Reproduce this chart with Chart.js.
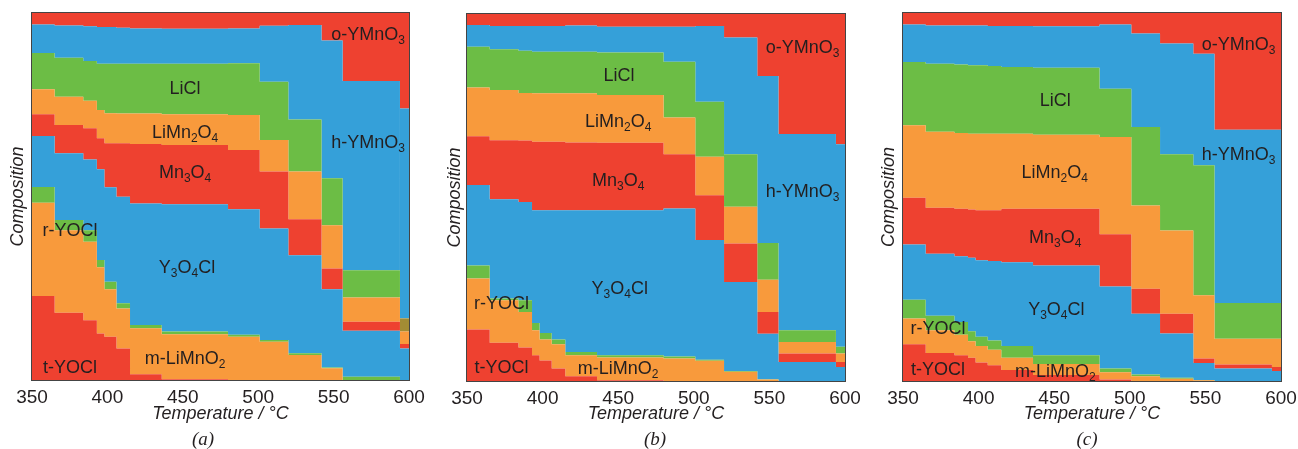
<!DOCTYPE html>
<html>
<head>
<meta charset="utf-8">
<script src="https://cdn.jsdelivr.net/npm/chart.js@4.4.1/dist/chart.umd.min.js"></script>
<style>
  html, body { margin: 0; padding: 0; background: #fff; }
  #wrap { position: relative; width: 1298px; height: 449px; overflow: hidden; }
  .panel { position: absolute; top: 0; height: 449px; }
</style>
</head>
<body>
<div id="wrap">
  <div class="panel" style="left:0px;width:430px"><canvas id="chartA" width="430" height="449"></canvas></div>
  <div class="panel" style="left:430px;width:430px"><canvas id="chartB" width="430" height="449"></canvas></div>
  <div class="panel" style="left:860px;width:438px"><canvas id="chartC" width="438" height="449"></canvas></div>
</div>
<script>
// Temperature (°C) at which each composition step starts; the last one closes the axis
const temperatures = [350, 365, 384, 393, 398, 406, 415, 436, 480, 501, 520, 542, 556, 594, 600];

// Stack order, bottom to top
const phaseNames = ['t-YOCl', 'r-YOCl / m-LiMnO2', 'minor phase', 'Y3O4Cl', 'Mn3O4', 'LiMn2O4', 'LiCl', 'h-YMnO3', 'o-YMnO3'];
const phaseColors = ['#ee4130', '#f89a3c', '#6cbd45', '#35a0d9', '#ee4130', '#f89a3c', '#6cbd45', '#35a0d9', '#ee4130'];

// Panel (a): composition (%) per temperature step
const aTYOCl   = [22.9, 18.3, 16.3, 12.7, 11.8, 8.6, 1.6, 0.2, 0, 0, 0, 0, 0, 0];
const aRYOCl   = [25.4, 22.5, 21.4, 18.0, 12.9, 10.9, 12.5, 12.3, 11.8, 10.4, 6.8, 3.2, 0, 0];
const aMinor   = [4.3, 2.8, 3.1, 2.0, 2.1, 1.4, 0.9, 0.7, 0.5, 0.5, 0.5, 0.2, 0.9, 0];
const aY3O4Cl  = [13.9, 18.2, 19.3, 24.7, 25.7, 29.0, 33.1, 34.7, 34.2, 30.4, 26.7, 21.3, 12.5, 8.6];
const aMn3O4   = [5.9, 7.7, 8.5, 8.5, 12.0, 14.6, 16.2, 16.1, 16.2, 15.5, 9.8, 5.7, 2.5, 1.2];
const aLiMn2O4 = [6.8, 7.7, 7.5, 7.7, 8.2, 8.1, 8.3, 8.4, 9.5, 8.6, 13.0, 11.8, 6.6, 3.4];
const aLiCl    = [9.9, 10.6, 10.8, 12.6, 13.5, 13.6, 13.6, 13.8, 14.1, 15.9, 14.2, 12.8, 7.4, 3.6];
const aHYMnO3  = [7.8, 8.8, 9.5, 10.0, 10.0, 9.8, 9.6, 9.5, 9.5, 15.2, 25.7, 37.5, 51.6, 57.2];
const aOYMnO3  = [3.1, 3.4, 3.6, 3.8, 3.8, 4.0, 4.2, 4.3, 4.2, 3.5, 3.3, 7.5, 18.5, 26.0];

// Panel (b)
const bTYOCl   = [14.0, 10.4, 9.1, 7.0, 5.6, 3.4, 1.3, 0.2, 0, 0, 0, 0, 0, 0];
const bRYOCl   = [13.9, 11.6, 9.7, 6.8, 5.7, 6.6, 5.7, 6.2, 6.1, 5.5, 2.5, 0.4, 0, 0];
const bMinor   = [3.6, 0.5, 3.2, 2.0, 1.8, 1.3, 0.9, 0.6, 0.6, 0.3, 0.2, 0.1, 0, 0];
const bY3O4Cl  = [21.9, 27.0, 26.8, 30.7, 33.4, 35.2, 38.6, 39.5, 40.3, 32.6, 24.3, 12.4, 5.2, 3.8];
const bMn3O4   = [13.3, 16.1, 16.7, 18.7, 18.7, 18.7, 18.5, 18.4, 14.8, 12.2, 10.5, 5.9, 2.3, 1.4];
const bLiMn2O4 = [13.3, 13.7, 13.0, 13.2, 13.2, 13.2, 13.4, 13.0, 10.0, 10.5, 10.0, 8.8, 3.1, 2.3];
const bLiCl    = [11.1, 11.1, 11.5, 11.3, 11.3, 11.3, 11.3, 11.6, 15.2, 15.0, 14.3, 10.0, 3.2, 1.8];
const bHYMnO3  = [5.9, 6.3, 6.7, 7.0, 7.0, 7.0, 7.2, 7.0, 9.5, 20.6, 31.8, 45.5, 53.5, 55.2];
const bOYMnO3  = [3.0, 3.3, 3.3, 3.3, 3.3, 3.3, 3.5, 3.5, 3.5, 3.3, 6.4, 16.9, 32.7, 35.5];

// Panel (c)
const cTYOCl   = [10.0, 7.6, 7.0, 6.3, 5.0, 4.3, 3.0, 1.6, 0.4, 0, 0, 0, 0, 0];
const cRYOCl   = [7.0, 6.2, 5.6, 4.5, 4.5, 4.2, 3.3, 3.0, 2.0, 1.3, 0.6, 0.2, 0, 0];
const cMinor   = [5.1, 3.9, 3.4, 2.7, 2.5, 2.5, 3.2, 2.4, 1.0, 0.5, 0.3, 0.1, 0, 0];
const cY3O4Cl  = [15.0, 16.9, 17.9, 20.0, 20.8, 21.6, 22.8, 24.4, 22.3, 16.5, 12.0, 4.6, 3.4, 2.7];
const cMn3O4   = [12.7, 12.5, 12.9, 13.1, 13.6, 13.8, 14.5, 15.4, 14.2, 6.8, 5.4, 1.2, 1.1, 1.1];
const cLiMn2O4 = [19.7, 20.6, 20.6, 20.6, 20.8, 20.8, 20.4, 20.1, 26.4, 22.6, 22.6, 17.2, 7.0, 7.7];
const cLiCl    = [17.2, 18.5, 18.6, 18.6, 18.6, 18.4, 18.1, 18.2, 13.1, 21.3, 20.7, 35.3, 9.7, 9.7];
const cHYMnO3  = [10.2, 10.4, 10.6, 10.8, 10.8, 10.9, 11.2, 11.3, 17.5, 25.4, 30.1, 30.3, 47.1, 47.1];
const cOYMnO3  = [3.1, 3.4, 3.4, 3.4, 3.4, 3.5, 3.5, 3.6, 3.1, 5.6, 8.3, 11.1, 31.7, 31.7];

// Phase labels written inside each panel (temperature, composition %)
const labelsA = [
  { text: 'o-YMnO_3', x: 572.8, y: 94.5 }, { text: 'LiCl', x: 451.5, y: 79.6 },
  { text: 'LiMn_2O_4', x: 451.5, y: 67.6 }, { text: 'Mn_3O_4', x: 451.5, y: 56.7 },
  { text: 'h-YMnO_3', x: 572.8, y: 64.9 }, { text: 'r-YOCl', x: 375.2, y: 41.1 },
  { text: 'Y_3O_4Cl', x: 452.8, y: 30.8 }, { text: 't-YOCl', x: 375.2, y: 3.8 },
  { text: 'm-LiMnO_2', x: 451.5, y: 6.0 }
];
const labelsB = [
  { text: 'o-YMnO_3', x: 572, y: 91.1 }, { text: 'LiCl', x: 450.6, y: 83.4 },
  { text: 'LiMn_2O_4', x: 450, y: 70.9 }, { text: 'Mn_3O_4', x: 450, y: 55.0 },
  { text: 'h-YMnO_3', x: 572, y: 52.0 }, { text: 'Y_3O_4Cl', x: 451, y: 25.5 },
  { text: 'r-YOCl', x: 372.8, y: 21.5 }, { text: 't-YOCl', x: 372.8, y: 4.0 },
  { text: 'm-LiMnO_2', x: 450, y: 3.8 }
];
const labelsC = [
  { text: 'o-YMnO_3', x: 572, y: 91.7 }, { text: 'LiCl', x: 450.7, y: 76.5 },
  { text: 'LiMn_2O_4', x: 450.3, y: 56.8 }, { text: 'Mn_3O_4', x: 450.7, y: 39.3 },
  { text: 'h-YMnO_3', x: 572, y: 61.8 }, { text: 'Y_3O_4Cl', x: 451.4, y: 19.7 },
  { text: 'r-YOCl', x: 373.1, y: 14.5 }, { text: 't-YOCl', x: 373.1, y: 3.4 },
  { text: 'm-LiMnO_2', x: 450.7, y: 2.9 }
];

const TEXT_COLOR = '#231f20';
const SANS = '"Liberation Sans", Arial, sans-serif';

// Each step value holds until the next temperature, so repeat the last one at 600
function stepPoints(values) {
  return temperatures.map((t, i) => ({ x: t, y: values[Math.min(i, values.length - 1)] }));
}

function buildDatasets(series, oddCell) {
  return series.map((values, i) => {
    const ds = {
      label: phaseNames[i],
      data: stepPoints(values),
      backgroundColor: phaseColors[i],
      borderColor: 'rgba(0,0,0,0)',
      borderWidth: 0,
      pointRadius: 0,
      stepped: 'before',
      fill: i === 0 ? 'origin' : '-1'
    };
    // olive cell at the last step of panel (a)
    if (oddCell && oddCell.layer === i) {
      ds.segment = {
        backgroundColor: ctx => ctx.p0.parsed.x === oddCell.from ? oddCell.color : undefined
      };
    }
    return ds;
  });
}

// Splits 'LiMn_2O_4' into normal and subscript runs and draws them centred
function drawChemLabel(ctx, text, cx, cy) {
  const parts = [];
  let buf = '';
  for (let k = 0; k < text.length; k++) {
    if (text[k] === '_') {
      if (buf) parts.push({ t: buf, sub: false });
      buf = '';
      parts.push({ t: text[k + 1], sub: true });
      k++;
    } else {
      buf += text[k];
    }
  }
  if (buf) parts.push({ t: buf, sub: false });

  const mainFont = '18px ' + SANS;
  const subFont = '12px ' + SANS;
  let total = 0;
  parts.forEach(p => {
    ctx.font = p.sub ? subFont : mainFont;
    p.w = ctx.measureText(p.t).width;
    total += p.w;
  });
  let x = cx - total / 2;
  ctx.fillStyle = TEXT_COLOR;
  ctx.textAlign = 'left';
  ctx.textBaseline = 'alphabetic';
  parts.forEach(p => {
    ctx.font = p.sub ? subFont : mainFont;
    ctx.fillText(p.t, x, p.sub ? cy + 10.5 : cy + 6.5);
    x += p.w;
  });
}

const panelDecor = {
  id: 'panelDecor',
  afterDatasetsDraw(chart, args, opts) {
    const { ctx, chartArea } = chart;
    const xs = chart.scales.x;
    const ys = chart.scales.y;
    ctx.save();
    opts.labels.forEach(l => {
      drawChemLabel(ctx, l.text, xs.getPixelForValue(l.x), ys.getPixelForValue(l.y));
    });
    // plot frame
    ctx.strokeStyle = '#444';
    ctx.lineWidth = 1;
    ctx.strokeRect(chartArea.left - 0.5, chartArea.top - 0.5,
      chartArea.right - chartArea.left + 1, chartArea.bottom - chartArea.top + 1);
    // panel letter
    ctx.font = 'italic 19px "Liberation Serif", "Times New Roman", serif';
    ctx.fillStyle = TEXT_COLOR;
    ctx.textAlign = 'center';
    ctx.textBaseline = 'middle';
    ctx.fillText(opts.letter, opts.letterX, 440);
    ctx.restore();
  }
};

function makePanel(canvasId, series, box, opts) {
  const canvas = document.getElementById(canvasId);
  const W = canvas.width;
  const H = canvas.height;
  return new Chart(canvas, {
    type: 'line',
    data: { datasets: buildDatasets(series, opts.oddCell) },
    options: {
      responsive: false,
      animation: false,
      devicePixelRatio: 1,
      layout: { padding: { left: 0, top: box.top, right: W - box.right, bottom: 0 } },
      plugins: {
        legend: { display: false },
        tooltip: { enabled: false },
        panelDecor: { labels: opts.labels, letter: opts.letter, letterX: opts.letterX }
      },
      scales: {
        x: {
          type: 'linear',
          min: 350,
          max: 600,
          grid: { display: false, drawTicks: false },
          border: { display: false },
          ticks: {
            stepSize: 50,
            autoSkip: false,
            maxRotation: 0,
            padding: 6,
            color: TEXT_COLOR,
            font: { family: SANS, size: 19 }
          },
          title: {
            display: true,
            text: 'Temperature / °C',
            color: TEXT_COLOR,
            font: { family: SANS, size: 18, style: 'italic' },
            padding: { top: 0, bottom: 24 }
          },
          afterFit: scale => {
            scale.height = H - box.bottom;
            // keep the plot box fixed: end labels may overhang into the margins
            scale.paddingLeft = 0;
            scale.paddingRight = 0;
          }
        },
        y: {
          stacked: true,
          min: 0,
          max: 100,
          grid: { display: false, drawTicks: false },
          border: { display: false },
          ticks: { display: false },
          title: {
            display: true,
            text: 'Composition',
            color: TEXT_COLOR,
            font: { family: SANS, size: 18, style: 'italic' },
            padding: { top: opts.yTitlePad, bottom: 0 }
          },
          afterFit: scale => { scale.width = box.left; }
        }
      }
    },
    plugins: [panelDecor]
  });
}

makePanel('chartA',
  [aTYOCl, aRYOCl, aMinor, aY3O4Cl, aMn3O4, aLiMn2O4, aLiCl, aHYMnO3, aOYMnO3],
  { left: 32, right: 409, top: 13, bottom: 380 },
  { labels: labelsA, letter: '(a)', letterX: 203, yTitlePad: 7,
    oddCell: { layer: 6, from: 594, color: '#a38c34' } });

makePanel('chartB',
  [bTYOCl, bRYOCl, bMinor, bY3O4Cl, bMn3O4, bLiMn2O4, bLiCl, bHYMnO3, bOYMnO3],
  { left: 37, right: 415, top: 14, bottom: 381 },
  { labels: labelsB, letter: '(b)', letterX: 225, yTitlePad: 14 });

makePanel('chartC',
  [cTYOCl, cRYOCl, cMinor, cY3O4Cl, cMn3O4, cLiMn2O4, cLiCl, cHYMnO3, cOYMnO3],
  { left: 43, right: 421, top: 13, bottom: 381 },
  { labels: labelsC, letter: '(c)', letterX: 227, yTitlePad: 18 });
</script>
</body>
</html>
